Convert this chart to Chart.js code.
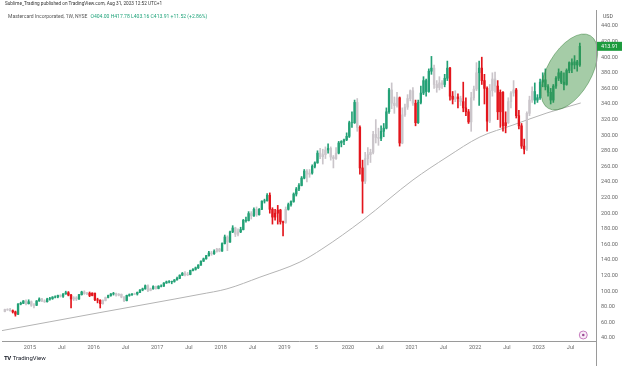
<!DOCTYPE html>
<html>
<head>
<meta charset="utf-8">
<title>Mastercard Incorporated, 1W</title>
<script src="https://cdn.jsdelivr.net/npm/chart.js@4.4.0/dist/chart.umd.min.js"></script>
<style>
  html, body { margin: 0; padding: 0; background: #fff; }
  #wrap { position: relative; width: 624px; height: 366px; overflow: hidden; font-family: Roboto, 'Noto Sans', sans-serif; }
  #wrap canvas { position: absolute; left: 0; top: 0; }
  .hdr { position: absolute; white-space: nowrap; line-height: 1; }
  #pub { left: 5px; top: 2px; font-size: 4.7px; color: #333; }
  #sym { left: 8px; top: 13.5px; font-size: 5.05px; color: #555; }
  #sym .ohlc { color: #1fa37a; margin-left: 3px; }
  #usd { left: 603px; top: 14px; font-size: 5.2px; color: #555; }
  #tv { left: 4px; top: 355px; font-size: 6px; color: #131722; }
  #tv b { letter-spacing: -0.5px; margin-right: 2px; }
</style>
</head>
<body>
<div id="wrap">
  <canvas id="chart" width="624" height="366"></canvas>
  <div class="hdr" id="pub">Sublime_Trading published on TradingView.com, Aug 31, 2023 12:52 UTC+1</div>
  <div class="hdr" id="sym">Mastercard Incorporated, 1W, NYSE<span class="ohlc">O404.00 H417.78 L403.16 C413.91 +11.52 (+2.86%)</span></div>
  <div class="hdr" id="usd">USD</div>
  <div class="hdr" id="tv"><b>TV</b>TradingView</div>
</div>
<script>
// half-month candles, Aug 2014 .. Aug 2023
const periodStart = 2014 + 7 / 12;

const opens = [
  // 2014 Aug-Dec
  74, 76.5, 76, 75, 73.5, 70.5, 83.5, 84.5, 87.5, 84,
  // 2015
  86.5, 82, 82, 87.5, 90, 87.5, 86.5, 90, 90.5, 92.5, 92.5, 94.5, 93.5, 96.5, 98, 95, 90, 91.5, 90, 95.5, 99, 97, 97.5, 94.5,
  // 2016
  97.5, 89, 88.5, 84, 88, 92, 94.5, 96.5, 97, 95, 96, 92.5, 88, 94.5, 95.5, 96.5, 96.5, 98.5, 101.5, 103, 107, 101, 103, 106,
  // 2017
  103.5, 106.5, 106.5, 110.5, 112, 112, 112.5, 114.5, 116.5, 120.5, 123, 121, 121.5, 126.5, 128, 130, 133.5, 138.5, 141.5, 145.5, 149, 148, 151, 154,
  // 2018
  151.5, 161, 169.5, 163, 176, 181, 173, 176, 179, 191, 190.5, 199.5, 196.5, 205, 198, 205, 215.5, 216, 223, 205, 195, 200, 204, 189,
  // 2019
  188, 205, 211, 215, 224.5, 231, 235.5, 245, 254, 250, 251.5, 260, 264.5, 277, 272.5, 275, 281, 283, 272, 270, 277, 290, 292, 294,
  // 2020
  298.5, 316, 316, 342, 310, 258, 241, 270, 275, 278, 301, 297, 296, 305, 309, 330, 358, 341, 338, 348, 290, 326, 336, 347,
  // 2021
  357, 341, 316, 342, 354, 370, 356, 382, 386, 365, 361, 367, 365, 373, 386, 350, 346, 349, 347, 343, 335, 330, 317, 348,
  // 2022
  359, 380, 386, 370, 360, 318, 357, 372, 363, 330, 355, 312, 316, 343, 354, 358, 325, 312, 286, 282, 328, 345, 356, 345,
  // 2023 Jan-Aug
  348, 368, 371, 362, 355, 345, 363, 373, 380, 368, 365, 383, 393, 390, 394, 390
];
const highs = [
  77, 77.5, 78, 76, 74.5, 84, 86, 88, 89, 89,
  87.5, 84, 88, 91.5, 91, 89, 91, 92, 93, 94, 95, 95.5, 97, 100, 99.5, 96, 93, 93, 96, 100, 100.5, 98.5, 99, 98,
  97.5, 91, 89, 89, 92.5, 95, 97, 98.5, 97.5, 97, 96.5, 93, 95, 96.5, 97, 97.5, 99, 102, 104, 108, 108, 104, 107, 106.5,
  107, 108, 111, 113, 113.5, 113, 115, 118, 121, 124, 125, 124, 127, 129, 131, 134, 139, 142.5, 146, 151, 151, 153, 155, 155,
  162, 172, 171, 177, 184, 182, 180, 182, 192, 195, 202, 202, 207, 208, 206, 216, 218, 225, 226, 207, 205, 210, 205, 190,
  208, 213, 216, 226, 233, 238, 247, 256, 256, 256, 262, 266, 280, 283, 282, 285, 289, 285, 274, 284, 292, 293, 295, 303,
  318, 330, 345, 347, 312, 268, 278, 284, 282, 305, 320, 309, 312, 315, 335, 360, 367, 349, 355, 349, 335, 340, 352, 358,
  361, 345, 345, 363, 375, 372, 385, 401, 390, 370, 375, 370, 378, 395, 387, 356, 357, 353, 350, 368, 348, 333, 355, 363,
  393, 395, 400, 378, 362, 365, 380, 381, 370, 358, 356, 330, 348, 356, 370, 360, 332, 315, 295, 330, 350, 362, 367, 352,
  372, 380, 385, 365, 360, 365, 375, 385, 382, 380, 385, 394, 398, 402, 396, 418
];
const lows = [
  73.5, 75.5, 74.5, 72, 68, 70, 82.5, 84, 82.5, 83.5,
  80.5, 78.5, 81.5, 87, 86.5, 85.5, 86, 88.5, 89.5, 91.5, 91.5, 92.5, 92, 96, 94, 78.5, 88, 88, 89.5, 95, 96, 95.5, 93, 94,
  88, 85, 78.5, 83.5, 87.5, 91.5, 93.5, 95, 93.5, 94, 91.5, 86.5, 87.5, 93.5, 94.5, 95.5, 95, 98, 100.5, 102.5, 99.5, 100.5, 102.5, 102.5,
  103, 105.5, 106, 110, 110.5, 109.5, 111.5, 114, 116, 120, 119.5, 120, 121, 126, 127, 129, 133, 138, 141, 145, 146, 147, 150, 150.5,
  151, 160.5, 152, 162.5, 175, 170, 171, 175, 178.5, 188.5, 190, 192.5, 196, 196, 197.5, 204.5, 213, 215.5, 200, 186, 191, 186, 186, 171,
  187, 204, 209, 214, 222, 229, 235, 244, 240, 246, 250, 258, 264, 270, 263, 270, 277, 268, 258, 269, 276, 285, 288, 293,
  297, 310, 315, 305, 250, 200, 238, 262, 265, 276, 290, 287, 293, 298, 308, 328, 334, 328, 336, 286, 289, 324, 333, 344,
  338, 312, 315, 340, 352, 350, 355, 378, 360, 355, 358, 360, 362, 370, 345, 340, 343, 335, 338, 330, 325, 315, 305, 345,
  357, 338, 365, 340, 305, 316, 350, 355, 320, 310, 305, 303, 315, 335, 350, 322, 308, 283, 276, 280, 325, 342, 340, 342,
  346, 362, 358, 350, 340, 342, 360, 370, 366, 358, 364, 380, 380, 385, 382, 388
];
const closes = [
  76.5, 76, 75, 73.5, 70.5, 83.5, 84.5, 87.5, 84, 86.5,
  82, 82, 87.5, 90, 87.5, 86.5, 90, 90.5, 92.5, 92.5, 94.5, 93.5, 96.5, 98, 95, 90, 91.5, 90, 95.5, 99, 97, 97.5, 94.5, 97.5,
  89, 88.5, 84, 88, 92, 94.5, 96.5, 97, 95, 96, 92.5, 88, 94.5, 95.5, 96.5, 96.5, 98.5, 101.5, 103, 107, 101, 103, 106, 103.5,
  106.5, 106.5, 110.5, 112, 112, 112.5, 114.5, 116.5, 120.5, 123, 121, 121.5, 126.5, 128, 130, 133.5, 138.5, 141.5, 145.5, 149, 148, 151, 154, 151.5,
  161, 169.5, 163, 176, 181, 173, 176, 179, 191, 190.5, 199.5, 196.5, 205, 198, 205, 215.5, 216, 223, 205, 195, 200, 204, 189, 188,
  205, 211, 215, 224.5, 231, 235.5, 245, 254, 250, 251.5, 260, 264.5, 277, 272.5, 275, 281, 283, 272, 270, 277, 290, 292, 294, 298.5,
  316, 316, 342, 310, 258, 241, 270, 275, 278, 301, 297, 296, 305, 309, 330, 358, 341, 338, 348, 290, 326, 336, 347, 357,
  341, 316, 342, 354, 370, 356, 382, 386, 365, 361, 367, 365, 373, 386, 350, 346, 349, 347, 343, 335, 330, 317, 348, 359,
  380, 386, 370, 360, 318, 357, 372, 363, 330, 355, 312, 316, 343, 354, 358, 325, 312, 286, 282, 328, 345, 356, 345, 348,
  368, 371, 362, 355, 345, 363, 373, 380, 368, 365, 383, 393, 390, 394, 390, 413.91
];
// u = up trend (green), d = down trend (red), n = neutral (grey)
const trend = [
  'nnndduuunu',
  'nnuunnuuuuunuuddnnuunndd',
  'dddnnuuunnnnuuunuuuunnun',
  'uuuuuuuuuunnuuuuuuuununn',
  'uunuunnuuuununuuuudddddd',
  'nuuuuuuunnuuunnnunnnuuuu',
  'uuunddnnnnnnuuuunnndnnnn',
  'nduuuuuunnnnuuddndndddnn',
  'nudddnnnddddnnnddddnnnuu',
  'uuuuuuuuuuuuuuuu'
].join('').split('');

// moving average line
const maYears = [2014.56, 2015.314, 2016.10, 2016.887, 2017.673, 2018.097, 2018.616, 2019.245, 2019.59, 2020.236, 2021.022, 2021.557, 2022.075, 2022.594, 2023.129, 2023.66];
const maValues = [49.5, 60.8, 72.6, 84.2, 96, 103, 118, 137.4, 154, 191.3, 242.6, 272, 297.7, 313, 328.5, 341.3];

const timeTicks = [2015, 2015.5, 2016, 2016.5, 2017, 2017.5, 2018, 2018.5, 2019, 2019.5, 2020, 2020.5, 2021, 2021.5, 2022, 2022.5, 2023, 2023.5];
const timeLabels = ['2015', 'Jul', '2016', 'Jul', '2017', 'Jul', '2018', 'Jul', '2019', '5', '2020', 'Jul', '2021', 'Jul', '2022', 'Jul', '2023', 'Jul'];
const priceTicks = [40, 60, 80, 100, 120, 140, 160, 180, 200, 220, 240, 260, 280, 300, 320, 340, 360, 380, 400, 420, 440];

const lastClose = closes[closes.length - 1];
const highlightCenter = [2023.48, 381];
const markerYear = 2023.70;

const colorMap = { u: '#23a176', d: '#e3151c', n: '#cac5ca' };
const candleColors = trend.map(t => colorMap[t]);
const times = closes.map((_, i) => periodStart + (i + 0.5) / 24);
const bodies = times.map((t, i) => ({ x: t, y: [opens[i], closes[i]] }));
const wicks = times.map((t, i) => ({ x: t, y: [lows[i], highs[i]] }));
const maLine = maYears.map((t, i) => ({ x: t, y: maValues[i] }));

const axisFont = { family: 'Roboto, sans-serif', size: 5.5 };

const decor = {
  id: 'decor',
  afterDatasetsDraw(chart) {
    const { ctx, scales: { x, y } } = chart;
    // highlight ellipse
    ctx.save();
    ctx.beginPath();
    ctx.ellipse(x.getPixelForValue(highlightCenter[0]), y.getPixelForValue(highlightCenter[1]), 42, 22, -60 * Math.PI / 180, 0, Math.PI * 2);
    ctx.fillStyle = 'rgba(56,142,60,0.45)';
    ctx.fill();
    ctx.strokeStyle = 'rgba(56,130,60,0.5)';
    ctx.lineWidth = 1;
    ctx.stroke();
    ctx.restore();
  },
  afterDraw(chart) {
    const { ctx, chartArea: a, scales: { x, y } } = chart;
    ctx.save();
    // price axis line, full height
    ctx.strokeStyle = '#9a9a9a';
    ctx.lineWidth = 1;
    ctx.beginPath();
    ctx.moveTo(Math.round(a.right) + 0.5, 10);
    ctx.lineTo(Math.round(a.right) + 0.5, 366);
    ctx.stroke();

    // last price tag
    const py = y.getPixelForValue(lastClose);
    ctx.fillStyle = '#1d9b3e';
    ctx.fillRect(a.right + 1, py - 4.5, 25, 9);
    ctx.fillStyle = '#fff';
    ctx.font = '5.5px Roboto, sans-serif';
    ctx.textAlign = 'center';
    ctx.textBaseline = 'middle';
    ctx.fillText(lastClose.toFixed(2), a.right + 13.5, py);

    // event marker
    const mx = x.getPixelForValue(markerYear);
    const my = a.bottom - 6;
    ctx.beginPath();
    ctx.arc(mx, my, 4, 0, Math.PI * 2);
    ctx.fillStyle = 'rgba(210,140,210,0.15)';
    ctx.fill();
    ctx.strokeStyle = '#c77dbf';
    ctx.stroke();
    ctx.beginPath();
    ctx.arc(mx, my, 1.3, 0, Math.PI * 2);
    ctx.fillStyle = '#9c4a94';
    ctx.fill();
    ctx.restore();
  }
};

new Chart(document.getElementById('chart'), {
  type: 'bar',
  data: {
    datasets: [
      { type: 'bar', label: 'body', data: bodies, backgroundColor: candleColors, barThickness: 1.7, grouped: false, borderWidth: 0, order: 1 },
      { type: 'bar', label: 'wick', data: wicks, backgroundColor: candleColors, barThickness: 1, grouped: false, borderWidth: 0, order: 2 },
      { type: 'line', label: 'MA', data: maLine, borderColor: '#b4b4b4', borderWidth: 1, pointRadius: 0, cubicInterpolationMode: 'monotone', order: 3 }
    ]
  },
  options: {
    responsive: false,
    animation: false,
    layout: { padding: { top: 22, left: 2, right: 0, bottom: 0 } },
    plugins: { legend: { display: false }, tooltip: { enabled: false } },
    scales: {
      x: {
        type: 'linear',
        min: 2014.56,
        max: 2023.9,
        offset: false,
        grid: { display: false, drawTicks: false },
        border: { display: true, color: '#9a9a9a', width: 1 },
        ticks: {
          autoSkip: false, maxRotation: 0, padding: 3, color: '#6a6a6a', font: axisFont,
          callback: (v, i) => timeLabels[i]
        },
        afterBuildTicks: s => { s.ticks = timeTicks.map(v => ({ value: v })); },
        afterFit: s => { s.height = 25; }
      },
      y: {
        position: 'right',
        min: 36.15,
        max: 445.1,
        grid: { display: false, drawTicks: false },
        border: { display: false },
        ticks: { padding: 5, color: '#6a6a6a', font: axisFont, callback: v => v.toFixed(2) },
        afterBuildTicks: s => { s.ticks = priceTicks.map(v => ({ value: v })); },
        afterFit: s => { s.width = 28; }
      }
    }
  },
  plugins: [decor]
});
</script>
</body>
</html>
